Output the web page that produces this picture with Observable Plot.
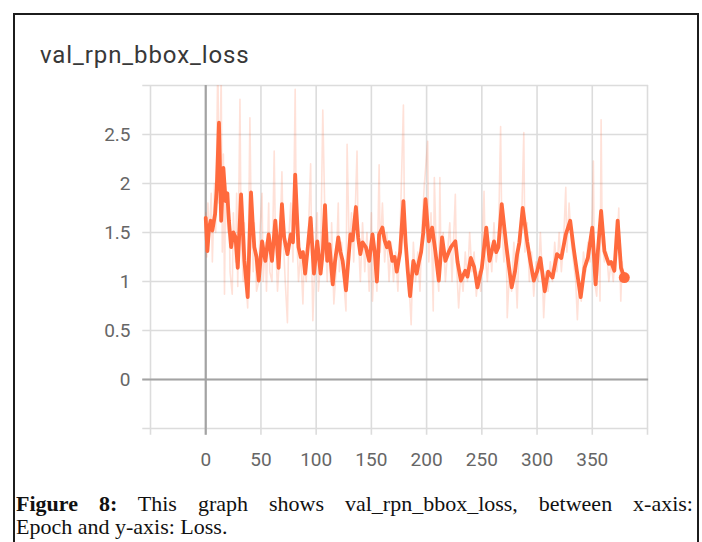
<!DOCTYPE html>
<html>
<head>
<meta charset="utf-8">
<script src="https://cdn.jsdelivr.net/npm/d3@7"></script>
<script src="https://cdn.jsdelivr.net/npm/@observablehq/plot@0.6"></script>
<style>
  html, body { margin: 0; padding: 0; background: #fff; width: 702px; height: 542px; overflow: hidden; }
  #frame { position: absolute; left: 13px; top: 13px; width: 682px; height: 600px; z-index: 5; pointer-events: none;
           border-left: 2px solid #1c1c1c; border-top: 2px solid #1c1c1c; border-right: 2px solid #1c1c1c; }
  #title { position: absolute; left: 40px; top: 43px; font-family: Roboto, sans-serif; font-size: 24px;
           line-height: 24px; letter-spacing: 0.9px; color: #383838; white-space: nowrap; }
  #chart { position: absolute; left: 0; top: 80px; }
  .cap { position: absolute; left: 16px; width: 677px; font-family: "Liberation Serif", serif;
         font-size: 22px; line-height: 23px; color: #111; white-space: nowrap; }
  #cap1 { top: 492px; text-align: justify; text-align-last: justify; white-space: normal; }
  #cap2 { top: 515px; }
</style>
</head>
<body>
<div id="frame"></div>
<div id="title">val_rpn_bbox_loss</div>
<div id="chart"></div>
<div class="cap" id="cap1"><b>Figure 8:</b> This graph shows val_rpn_bbox_loss, between x-axis:</div>
<div class="cap" id="cap2">Epoch and y-axis: Loss.</div>
<script>
// ---- data ----
const xTicks = [0, 50, 100, 150, 200, 250, 300, 350];
const xGrid = [-50, 0, 50, 100, 150, 200, 250, 300, 350, 400];
const yTicks = [0, 0.5, 1, 1.5, 2, 2.5];
const yGrid = [-0.5, 0, 0.5, 1, 1.5, 2, 2.5, 3];

const smoothEpoch = [0, 1.5, 3, 4.5, 6, 8.5, 10, 12, 13, 14, 16, 18, 19.5, 21, 23, 25, 27, 29, 32, 33.5, 35, 38, 41, 42.5, 44, 46, 48, 51, 52.5, 54, 57, 58.5, 60, 63, 64.5, 66, 69, 71, 74, 77, 79, 81, 82.5, 84, 86, 88, 90, 92, 95, 96.5, 98, 101, 102.5, 104, 106, 108, 110, 112, 115, 117, 120, 122, 124, 127, 129, 131, 133, 136, 138, 140, 142, 145, 148, 151, 153, 155, 157, 160, 162, 164, 166, 169, 171, 173, 176, 179, 181, 183, 185, 188, 191, 193, 195, 197, 199, 202, 205, 208, 211, 214, 217, 220, 222, 226, 228, 231, 235, 237, 240, 243, 246, 250, 254, 257, 261, 263, 265, 268, 272, 274, 277, 280, 282, 284, 287, 291, 294, 297, 300, 303, 307, 310, 314, 318, 322, 326, 330, 333, 336, 339.5, 343, 346, 350, 353, 355, 358, 361, 365, 367, 370, 373, 376, 379];
const smoothLoss = [1.65, 1.31, 1.55, 1.62, 1.52, 1.69, 1.95, 2.62, 2.1, 1.62, 2.16, 1.82, 1.9, 1.62, 1.35, 1.5, 1.45, 1.14, 1.89, 1.55, 1.21, 0.84, 1.91, 1.6, 1.35, 1.25, 1.01, 1.41, 1.3, 1.21, 1.48, 1.33, 1.21, 1.62, 1.4, 1.14, 1.79, 1.45, 1.28, 1.48, 1.4, 2.09, 1.7, 1.35, 1.25, 1.3, 1.08, 1.3, 1.65, 1.35, 1.08, 1.41, 1.25, 1.08, 1.3, 1.78, 1.21, 1.38, 0.97, 1.2, 1.45, 1.3, 1.21, 0.91, 1.2, 1.48, 1.42, 1.76, 1.45, 1.28, 1.4, 1.35, 1.21, 1.48, 1.3, 1.0, 1.48, 1.55, 1.42, 1.35, 1.4, 1.21, 1.25, 1.1, 1.3, 1.82, 1.4, 1.1, 0.85, 1.21, 1.08, 1.2, 1.3, 1.5, 1.84, 1.41, 1.55, 1.3, 1.01, 1.45, 1.21, 1.3, 1.35, 1.41, 1.2, 1.01, 1.11, 1.05, 1.24, 1.15, 0.94, 1.14, 1.55, 1.21, 1.41, 1.3, 1.35, 1.79, 1.38, 1.2, 0.94, 1.1, 1.28, 1.4, 1.75, 1.41, 1.2, 1.01, 1.1, 1.24, 0.9, 1.1, 1.04, 1.28, 1.24, 1.48, 1.62, 1.35, 1.11, 0.84, 1.14, 1.24, 1.55, 0.97, 1.3, 1.72, 1.31, 1.18, 1.2, 1.11, 1.62, 1.14, 1.04];

const rawEpoch = [0, 1, 2, 3, 5, 6, 8, 9, 11, 12, 13, 14, 15, 16, 17, 18, 20, 21, 22, 24, 25, 27, 28, 29, 31, 32, 34, 35, 37, 38, 40, 41, 43, 44, 46, 48, 49, 51, 52, 54, 55, 57, 58, 60, 62, 63, 65, 67, 69, 70, 72, 74, 75, 77, 79, 81, 82, 84, 86, 88, 89, 91, 93, 95, 96, 97, 99, 101, 102, 104, 106, 108, 110, 111, 113, 114, 116, 118, 120, 121, 123, 125, 127, 128, 130, 132, 134, 137, 138, 140, 142, 144, 146, 148, 150, 151, 153, 155, 157, 158, 160, 162, 164, 166, 168, 170, 172, 174, 176, 179, 180, 182, 184, 186, 188, 190, 192, 194, 196, 198, 201, 202, 204, 206, 207, 209, 211, 212, 213, 215, 217, 219, 221, 223, 226, 227, 229, 231, 233, 235, 237, 239, 241, 243, 245, 247, 249, 252, 253, 255, 257, 259, 261, 263, 265, 267, 268, 270, 272, 273, 275, 277, 279, 281, 282, 284, 286, 288, 289, 291, 293, 295, 297, 299, 301, 303, 305, 306, 308, 310, 312, 314, 316, 318, 320, 322, 324, 326, 327, 329, 331, 333, 335, 336.5, 338, 340, 342, 344, 346, 348, 350, 351, 352, 354, 356, 357, 358, 359, 361, 363, 365, 367, 369, 371, 373, 374, 375.8, 377, 379];
const rawLoss = [1.7, 1.25, 1.8, 1.4, 1.9, 1.2, 2.0, 1.5, 3.3, 1.8, 2.4, 3.1, 1.3, 2.3, 0.87, 2.0, 1.5, 1.9, 1.1, 0.87, 1.7, 1.2, 1.9, 0.95, 2.86, 1.5, 1.0, 1.6, 0.9, 0.73, 2.67, 1.8, 1.1, 1.6, 0.9, 1.0, 1.5, 1.9, 1.0, 1.4, 0.9, 1.8, 1.1, 1.0, 2.33, 1.5, 0.9, 1.3, 2.12, 1.5, 1.0, 0.58, 1.4, 1.8, 1.2, 2.96, 1.6, 1.0, 1.3, 0.77, 1.2, 1.0, 1.5, 2.2, 1.2, 0.6, 1.3, 1.7, 0.9, 1.2, 2.75, 1.6, 1.0, 1.5, 1.0, 1.6, 0.77, 1.1, 1.8, 1.1, 1.4, 1.0, 0.7, 2.4, 1.3, 1.7, 1.2, 2.33, 1.5, 1.0, 1.6, 1.1, 1.5, 0.9, 1.7, 0.8, 1.3, 0.9, 2.19, 1.3, 1.8, 1.2, 1.5, 1.0, 1.4, 1.0, 1.3, 0.9, 1.5, 2.8, 1.6, 1.2, 1.0, 0.56, 1.4, 1.0, 1.3, 0.9, 1.6, 2.0, 2.43, 1.2, 1.7, 0.7, 2.06, 1.2, 0.9, 2.06, 1.2, 1.5, 1.0, 1.3, 1.6, 1.0, 1.89, 1.2, 0.73, 1.1, 0.9, 1.3, 1.0, 1.5, 1.1, 1.3, 0.85, 1.1, 0.9, 1.92, 1.3, 1.0, 1.4, 1.1, 1.6, 1.2, 1.4, 2.58, 1.6, 1.2, 1.5, 0.63, 1.1, 0.9, 1.4, 1.0, 0.73, 1.5, 1.6, 2.52, 1.3, 1.6, 1.0, 1.3, 0.85, 1.2, 1.0, 1.5, 1.0, 0.63, 1.1, 0.9, 1.2, 1.0, 1.4, 1.1, 1.5, 1.1, 1.4, 1.96, 1.3, 1.8, 1.4, 1.2, 1.0, 0.61, 1.0, 0.8, 1.3, 1.1, 1.4, 1.2, 1.7, 2.23, 1.0, 0.85, 1.4, 0.8, 2.65, 1.4, 1.2, 1.3, 1.0, 1.2, 1.0, 1.3, 1.5, 1.75, 0.8, 1.2, 1.0];

// ---- tables for the library ----
const smooth = smoothEpoch.map((e, i) => ({epoch: e, loss: smoothLoss[i]}));
const raw = rawEpoch.map((e, i) => ({epoch: e, loss: rawLoss[i]}));
const last = [smooth[smooth.length - 1]];

const orange = "#ff6a3d";
const gridColor = "#dcdcdc";
const zeroColor = "#a3a3a3";

const chart = Plot.plot({
  width: 702,
  height: 400,
  marginTop: 5,
  marginBottom: 52,
  marginLeft: 150,
  marginRight: 55,
  x: {domain: [-50, 400]},
  y: {domain: [-0.5, 3]},
  style: {fontFamily: "Roboto, sans-serif", fontSize: "19px", color: "#666", background: "transparent", overflow: "visible"},
  marks: [
    Plot.ruleX(xGrid, {y1: -0.57, y2: 3, stroke: gridColor, strokeWidth: 1.6}),
    Plot.ruleY(yGrid, {x1: -57, x2: 401, stroke: gridColor, strokeWidth: 1.6}),
    Plot.ruleX([0], {y1: -0.57, y2: 3, stroke: zeroColor, strokeWidth: 2.2}),
    Plot.ruleY([0], {x1: -57, x2: 401, stroke: zeroColor, strokeWidth: 2}),
    Plot.line(raw, {x: "epoch", y: "loss", stroke: orange, strokeOpacity: 0.2, strokeWidth: 1.6, clip: true}),
    Plot.line(smooth, {x: "epoch", y: "loss", stroke: orange, strokeWidth: 3.8, strokeLinejoin: "round"}),
    Plot.dot(last, {x: "epoch", y: "loss", r: 5.5, fill: orange, stroke: "none"}),
    Plot.axisY(yTicks, {tickSize: 0, tickPadding: 20, label: null, tickFormat: d => String(d)}),
    Plot.axisX(xTicks, {tickSize: 0, tickPadding: 24, label: null, tickFormat: d => String(d)})
  ]
});
document.getElementById("chart").appendChild(chart);
</script>
</body>
</html>
